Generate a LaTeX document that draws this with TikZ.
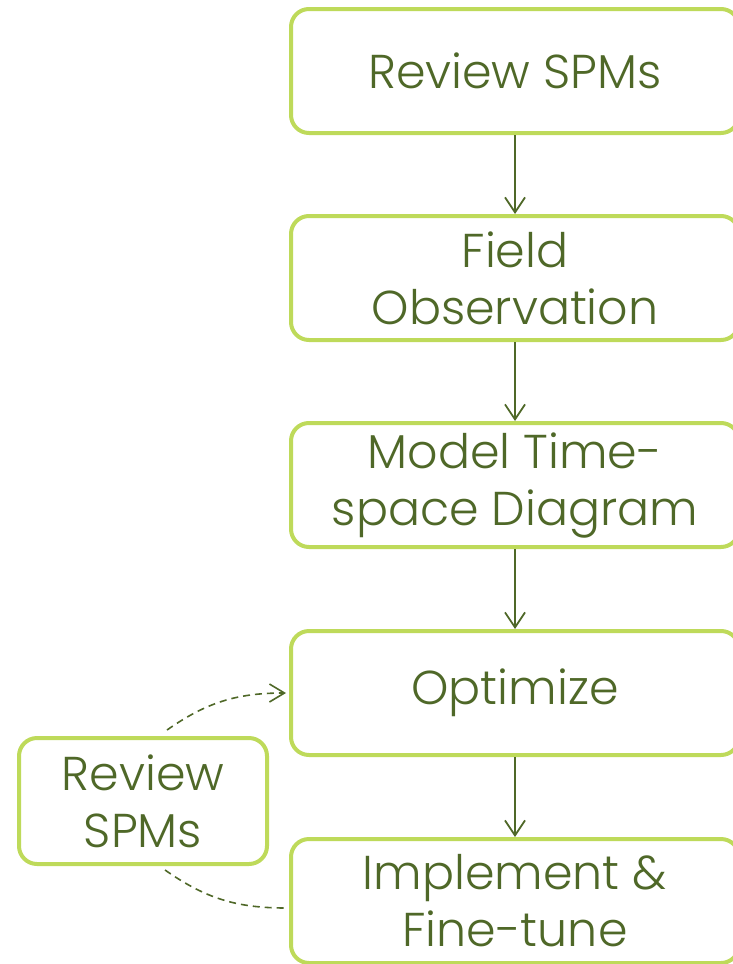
\documentclass[tikz,border=0pt]{standalone}
\usepackage{fontspec}
\setmainfont{Poppins}[UprightFont=* Light]
\usetikzlibrary{arrows.meta}
\definecolor{boxgreen}{RGB}{190,218,90}
\definecolor{txtgreen}{RGB}{79,104,40}
\tikzset{
  stepbox/.style={draw=boxgreen, line width=4pt, rounded corners=18pt, fill=white,
    text=txtgreen, align=center, font=\fontsize{47.5}{57}\selectfont, inner sep=0pt},
  mainbox/.style={stepbox, minimum width=448pt, minimum height=124pt},
  flow/.style={draw=txtgreen, line width=1.8pt, -{Straight Barb[length=15pt,width=20pt,line width=1.8pt]}},
  loop/.style={draw=txtgreen, line width=1.6pt, dash pattern=on 7pt off 5pt}
}
\begin{document}
\begin{tikzpicture}[x=1pt,y=1pt]
\useasboundingbox (0,0) rectangle (732,-964);
\node[mainbox] (b1) at (515,-71) {Review SPMs};
\node[mainbox] (b2) at (515,-278) {Field\\Observation};
\node[mainbox] (b3) at (515,-485) {Model Time-\\space Diagram};
\node[mainbox] (b4) at (515,-693) {Optimize};
\node[mainbox] (b5) at (515,-901) {Implement \&\\Fine-tune};
\node[stepbox, minimum width=248pt, minimum height=126pt] (r) at (143,-801) {Review\\SPMs};
\draw[flow] (b1.south) -- (b2.north);
\draw[flow] (b2.south) -- (b3.north);
\draw[flow] (b3.south) -- (b4.north);
\draw[flow] (b4.south) -- (b5.north);
\coordinate (ua) at ([xshift=24pt,yshift=6pt]r.north);
\coordinate (la) at ([xshift=22pt,yshift=-4pt]r.south);
\draw[loop, -{Straight Barb[length=15pt,width=18pt,line width=1.6pt]}] (ua) to[out=35,in=180] ([xshift=-3pt]b4.west);
\draw[loop] (la) to[out=-35,in=180] ([xshift=-3pt,yshift=-7pt]b5.west);
\end{tikzpicture}
\end{document}
